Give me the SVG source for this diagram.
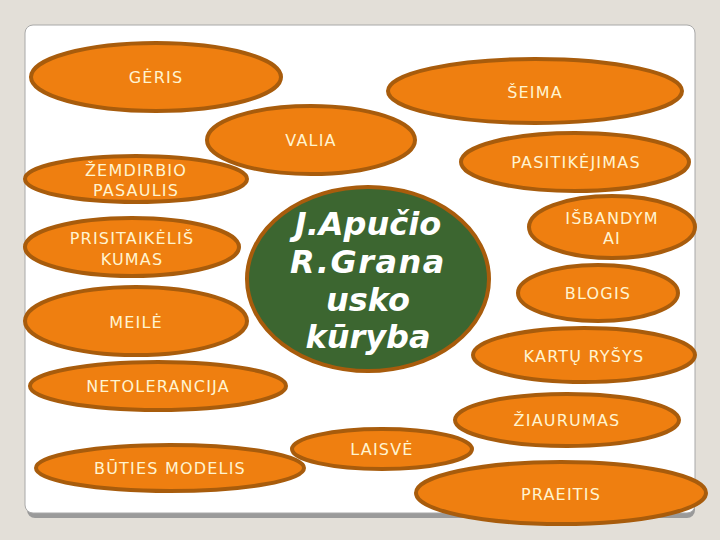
<svg xmlns="http://www.w3.org/2000/svg" width="720" height="540" viewBox="0 0 720 540">
<style>
.n ellipse{fill:#ef7f10;stroke:#a85c0c;stroke-width:4}
.n text{font-family:"DejaVu Sans",Verdana,sans-serif;font-size:16px;fill:#fff4d0;text-anchor:middle;letter-spacing:1.2px}
.c text{font-family:"DejaVu Sans",Verdana,sans-serif;font-size:32px;font-weight:bold;font-style:italic;fill:#ffffff;text-anchor:middle}
</style>
<rect x="0" y="0" width="720" height="540" fill="#e3dfd8"/>
<rect x="27" y="29" width="668" height="489" rx="8" fill="#9a9a9a"/>
<rect x="25" y="25" width="670" height="488" rx="8" fill="#ffffff" stroke="#a8a8a8" stroke-width="1"/>
<g id="connectors"></g>
<g id="geris" class="n"><ellipse cx="156" cy="77" rx="125" ry="34"/><text x="156" y="83">GĖRIS</text></g>
<g id="seima" class="n"><ellipse cx="535" cy="91" rx="147" ry="32"/><text x="535" y="98">ŠEIMA</text></g>
<g id="valia" class="n"><ellipse cx="311" cy="140" rx="104" ry="34"/><text x="311" y="146">VALIA</text></g>
<g id="pasitikejimas" class="n"><ellipse cx="575" cy="162" rx="114" ry="29"/><text x="576" y="168">PASITIKĖJIMAS</text></g>
<g id="zemdirbio" class="n"><ellipse cx="136" cy="179" rx="111" ry="23"/><text x="136" y="176">ŽEMDIRBIO</text><text x="136" y="196">PASAULIS</text></g>
<g id="prisitaikelis" class="n"><ellipse cx="132" cy="247" rx="107" ry="29"/><text x="132" y="244">PRISITAIKĖLIŠ</text><text x="132" y="265">KUMAS</text></g>
<g id="meile" class="n"><ellipse cx="136" cy="321" rx="111" ry="34"/><text x="136" y="328">MEILĖ</text></g>
<g id="isbandymai" class="n"><ellipse cx="612" cy="227" rx="83" ry="31"/><text x="612" y="224">IŠBANDYM</text><text x="612" y="244">AI</text></g>
<g id="blogis" class="n"><ellipse cx="598" cy="293" rx="80" ry="28"/><text x="598" y="299">BLOGIS</text></g>
<g id="kartu" class="n"><ellipse cx="584" cy="355" rx="111" ry="27"/><text x="584" y="362">KARTŲ RYŠYS</text></g>
<g id="netolerancija" class="n"><ellipse cx="158" cy="386" rx="128" ry="24"/><text x="158" y="392">NETOLERANCIJA</text></g>
<g id="ziaurumas" class="n"><ellipse cx="567" cy="420" rx="112" ry="26"/><text x="567" y="426">ŽIAURUMAS</text></g>
<g id="laisve" class="n"><ellipse cx="382" cy="449" rx="90" ry="20"/><text x="382" y="455">LAISVĖ</text></g>
<g id="buties" class="n"><ellipse cx="170" cy="468" rx="134" ry="23"/><text x="170" y="474">BŪTIES MODELIS</text></g>
<g id="praeitis" class="n"><ellipse cx="561" cy="493" rx="145" ry="31"/><text x="561" y="500">PRAEITIS</text></g>
<g id="center" class="c"><ellipse cx="368" cy="279" rx="121" ry="92" fill="#3c6630" stroke="#a85c0c" stroke-width="4"/>
<text x="368" y="235">J.Apučio</text><text x="368" y="273" letter-spacing="1.5">R.Grana</text><text x="368" y="311">usko</text><text x="368" y="348">kūryba</text></g>
</svg>
